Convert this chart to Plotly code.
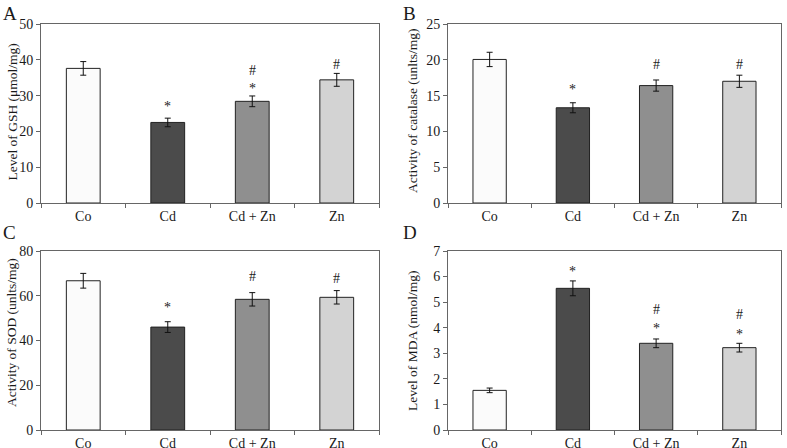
import plotly.graph_objects as go

categories = ["Co", "Cd", "Cd + Zn", "Zn"]
bar_colors = ["#fbfbfb", "#4b4b4b", "#8f8f8f", "#d3d3d3"]

gsh_mean = [37.6, 22.5, 28.4, 34.4]
gsh_err = [1.9, 1.2, 1.5, 1.8]
gsh_marks = [[], [("*", 27.0)], [("*", 32.0), ("#", 37.1)], [("#", 38.7)]]

cat_mean = [20.05, 13.3, 16.4, 17.0]
cat_err = [1.0, 0.7, 0.78, 0.85]
cat_marks = [[], [("*", 15.8)], [("#", 19.3)], [("#", 19.3)]]

sod_mean = [66.7, 46.0, 58.4, 59.3]
sod_err = [3.3, 2.4, 3.0, 3.0]
sod_marks = [[], [("*", 54.9)], [("#", 68.8)], [("#", 67.8)]]

mda_mean = [1.55, 5.54, 3.39, 3.22]
mda_err = [0.09, 0.29, 0.17, 0.17]
mda_marks = [[], [("*", 6.2)], [("*", 3.96), ("#", 4.7)], [("*", 3.75), ("#", 4.5)]]

panels = [
    ("A", "Level of GSH (μmol/mg)", gsh_mean, gsh_err, gsh_marks, [0, 50], 10),
    ("B", "Activity of catalase (unlts/mg)", cat_mean, cat_err, cat_marks, [0, 25], 5),
    ("C", "Activity of SOD (unlts/mg)", sod_mean, sod_err, sod_marks, [0, 80], 20),
    ("D", "Level of MDA (nmol/mg)", mda_mean, mda_err, mda_marks, [0, 7], 1),
]

W, H = 787, 448
boxes = [
    (41, 379, 24, 203),
    (448, 781, 24, 203),
    (41, 379, 251, 430),
    (448, 781, 251, 430),
]
letter_pos = [(1, 1), (401, 1), (1, 220), (401, 220)]
title_pos = [(12, 112.5), (412, 111), (11, 333), (412, 341)]

FONT = "Liberation Serif, Times New Roman, serif"
TXT = "#1a1a1a"
fig = go.Figure()

for i, (letter, ytitle, mean, err, marks, yr, dt) in enumerate(panels):
    sfx = "" if i == 0 else str(i + 1)
    xa, ya = "x" + sfx, "y" + sfx
    fig.add_trace(go.Bar(
        x=categories, y=mean, xaxis=xa, yaxis=ya, width=0.4,
        marker=dict(color=bar_colors, line=dict(color="#222222", width=1)),
        error_y=dict(type="data", array=err, color="#111111", thickness=1, width=3),
        showlegend=False, hoverinfo="skip",
    ))
    for ci, mk in enumerate(marks):
        for sym, yv in mk:
            fig.add_annotation(x=categories[ci], y=yv, xref=xa, yref=ya, text=sym,
                               showarrow=False, font=dict(family=FONT, size=14, color=TXT))
    x0, x1, y0, y1 = boxes[i]
    axx = dict(domain=[x0 / W, x1 / W], anchor=ya, type="category", automargin=False,
               showline=True, linecolor="#666", linewidth=1, mirror=True,
               ticks="outside", tickson="boundaries", ticklen=4, tickcolor="#666",
               showgrid=False, tickfont=dict(family=FONT, size=14, color=TXT))
    axy = dict(domain=[1 - y1 / H, 1 - y0 / H], anchor=xa, range=yr, dtick=dt, automargin=False,
               showline=True, linecolor="#666", linewidth=1, mirror=True,
               ticks="outside", ticklen=4, tickcolor="#666", showgrid=False, zeroline=False,
               tickfont=dict(family=FONT, size=14, color=TXT))
    fig.update_layout(**{"xaxis" + sfx: axx, "yaxis" + sfx: axy})
    tx, ty = title_pos[i]
    fig.add_annotation(x=tx / W, y=1 - ty / H, xref="paper", yref="paper", text=ytitle,
                       textangle=-90, showarrow=False, xanchor="center", yanchor="middle",
                       font=dict(family=FONT, size=13.5, color=TXT))
    lx, ly = letter_pos[i]
    fig.add_annotation(x=lx / W, y=1 - ly / H, xref="paper", yref="paper", text=letter,
                       showarrow=False, xanchor="left", yanchor="top",
                       font=dict(family=FONT, size=19, color=TXT))

fig.update_layout(width=W, height=H, margin=dict(l=0, r=0, t=0, b=0), template="none",
                  paper_bgcolor="white", plot_bgcolor="white", bargap=0.6)
fig.write_html("out.html", config={"displayModeBar": False},
               post_script="document.body.style.margin='0';document.body.style.overflow='hidden';")
